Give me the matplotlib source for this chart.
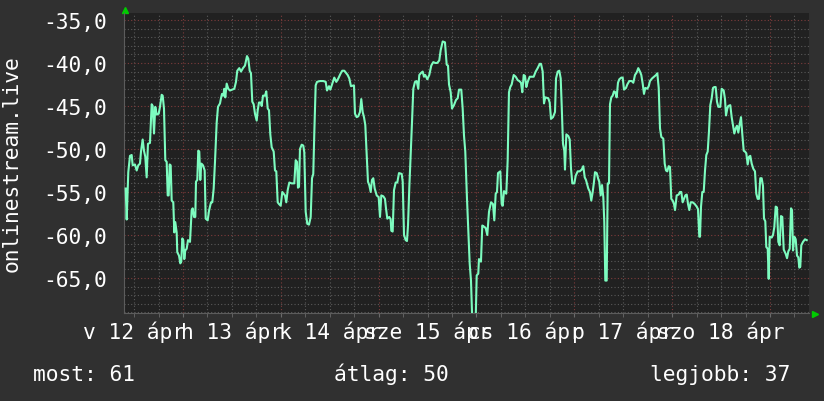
import matplotlib
matplotlib.use("Agg")
import matplotlib.pyplot as plt
import matplotlib.transforms as mtransforms
from matplotlib.ticker import MultipleLocator, FixedLocator

# ---- data (hours since 12 Apr 00:00, value) ----
hours = [
    9.94, 10.19, 10.58, 11.00, 11.41, 11.66, 12.22, 12.64, 13.03, 13.45, 13.70, 14.11, 14.43, 14.75, 15.09,
    15.41, 15.90, 16.32, 16.57, 16.89, 17.20, 17.55, 18.04, 18.36, 18.77, 19.02, 19.34, 19.66, 20.00, 20.25,
    20.49, 20.74, 20.98, 21.23, 21.62, 21.87, 22.11, 22.45, 22.60, 23.02, 23.34, 23.58, 23.83, 24.07, 24.32,
    24.56, 24.91, 25.23, 25.72, 26.13, 26.38, 26.70, 27.02, 27.19, 27.51, 27.75, 28.00, 28.24, 28.49, 28.91,
    29.32, 29.57, 30.06, 30.38, 30.87, 31.19, 31.53, 31.85, 32.27, 32.59, 33.08, 33.32, 33.57, 33.89, 34.13,
    34.38, 34.72, 35.11, 35.53, 36.09, 36.59, 37.00, 37.32, 37.81,
    38.23, 38.72, 39.21, 39.70, 40.02, 40.36, 40.68, 41.00, 41.34, 41.66, 42.08, 42.33, 42.64, 43.13, 43.31,
    43.63, 44.12, 44.43, 44.78, 45.10, 45.42, 45.76, 46.25, 46.57, 46.89, 47.23, 47.55, 47.97, 48.36, 48.70,
    49.02, 49.34, 49.68, 50.08, 50.67, 51.30, 51.65, 51.97, 52.21, 52.46, 52.70, 53.12, 53.51, 53.76, 54.10,
    54.49, 54.91, 55.33, 55.65, 55.96, 56.21, 56.55, 56.87, 57.61, 58.42, 59.01, 59.33, 59.82, 60.14, 60.63,
    61.12, 61.61, 62.10, 62.69, 63.08, 63.57, 64.06, 64.40, 64.80, 65.21,
    65.95, 66.19, 66.61, 67.00, 67.42, 67.74, 68.08, 68.40, 68.72, 69.06, 69.38, 69.70, 70.05, 70.36, 70.68,
    71.03, 71.52, 72.01, 72.33, 72.65, 73.14, 73.55, 73.80, 74.12, 74.61, 74.95, 75.10, 75.44, 75.76, 76.18,
    76.57, 76.99, 77.65, 77.90, 78.22, 78.63, 78.95, 79.20, 79.52, 79.86, 80.18, 80.50, 80.91, 81.33, 81.72,
    81.97, 82.31, 82.80, 83.12, 83.44, 83.93, 84.42, 84.91, 85.40, 85.89, 86.38, 86.87, 87.22, 87.71, 88.27,
    88.69, 89.01, 89.26, 89.67, 89.99, 90.48, 90.97, 91.39, 91.71, 92.27, 92.61, 92.93, 93.25,
    93.67, 93.99, 94.33, 94.65, 94.97, 95.80, 96.05, 96.44, 96.61, 97.10, 97.42, 97.77, 98.26, 98.65, 99.07,
    99.56, 100.05, 100.37, 100.71, 101.03, 101.28, 101.84, 102.18, 102.43, 102.75, 103.31, 103.65, 103.97,
    104.29, 104.63, 105.13, 105.62, 106.11, 106.50, 106.92, 107.24, 107.58, 107.90, 108.22, 108.56, 109.05,
    109.54, 110.03, 110.52, 111.01, 111.51, 111.83, 112.24, 112.56, 112.88, 113.61, 113.96, 114.28, 114.77,
    115.26, 115.51, 115.92, 116.31, 116.66, 116.90, 117.22, 117.54, 117.71, 118.04, 118.53, 118.87, 119.19,
    119.51, 120.00, 120.34, 120.83, 121.32, 121.81, 122.20, 122.55, 122.86, 123.43, 123.84, 124.16, 124.51,
    124.83, 125.07, 125.49, 125.88, 126.12, 126.47, 126.79, 127.11, 127.35, 127.60, 127.94, 128.19, 128.51,
    128.75, 129.07, 129.41, 129.73, 130.05, 130.39, 130.71, 131.03, 131.52, 131.87, 132.19, 132.68, 133.00,
    133.49, 134.08, 134.47, 134.88, 135.30, 135.69, 136.11, 136.43, 136.77, 137.09, 137.41, 137.90, 138.25,
    138.56, 139.06, 139.55, 140.04, 140.36, 140.70, 141.02, 141.34, 141.83, 142.17, 142.49, 142.81, 143.15,
    143.47, 143.79, 144.13, 144.45, 144.70, 145.11, 145.60, 145.92, 146.24, 146.58, 146.91, 147.23, 147.57,
    147.89, 148.21, 148.55, 149.04, 149.53, 150.02, 150.34, 150.66, 150.83, 151.08, 151.40, 151.74, 152.06,
    152.38, 152.72, 153.04, 153.36, 153.70, 154.02, 154.34, 154.68, 155.00, 155.32, 155.81, 156.15, 156.64,
    156.96, 157.21, 157.53, 157.77, 158.26, 158.60, 158.92, 159.25, 159.59, 159.91, 160.23, 160.57, 160.89,
    161.21, 161.55, 161.87, 162.19, 162.53, 162.85, 163.17, 163.51, 163.91, 164.32, 164.64, 164.98, 165.30,
    165.62, 165.96, 166.28, 166.53, 166.85, 167.09, 167.44, 167.68, 167.93, 168.42, 168.74, 169.06, 169.40,
    169.72, 170.04, 170.38, 170.70, 171.02, 171.37, 171.86, 172.18, 172.50, 172.84, 173.16, 173.40, 173.65,
    173.97, 174.31, 174.63, 174.95, 175.19, 175.43, 175.68, 176.10, 176.59, 177.01,
]
values = [
    -54.6, -58.2, -52.7, -50.8, -50.7, -51.9, -51.8, -52.5, -51.9, -51.7, -50.3, -48.9, -50.2, -50.9, -53.3,
    -49.4, -49.3, -44.8, -45.0, -48.2, -45.1, -46.0, -45.9, -45.1, -43.7, -43.8, -45.3, -51.3, -51.5, -55.4,
    -55.4, -51.8, -51.9, -56.0, -56.2, -59.7, -58.5, -59.7, -62.0, -62.4, -63.3, -63.1, -60.4, -60.6, -62.8,
    -61.8, -61.6, -60.6, -60.8, -57.1, -56.9, -57.9, -57.9, -53.8, -53.6, -50.2, -50.3, -53.6, -51.7, -51.9,
    -52.5, -58.1, -58.3, -57.2, -56.2, -56.2, -54.6, -51.5, -46.9, -45.1, -44.7, -44.1, -43.6, -43.8, -43.0,
    -44.0, -42.4, -43.0, -43.2, -43.1, -43.0, -42.2, -40.9, -40.6,
    -41.0, -40.6, -40.3, -39.2, -39.5, -40.9, -41.2, -44.5, -44.8, -45.9, -46.7, -45.5, -44.6, -44.6, -45.0,
    -43.8, -43.8, -43.3, -45.3, -45.5, -48.3, -49.8, -50.3, -52.5, -52.6, -56.2, -56.4, -56.6, -55.0, -55.2,
    -55.4, -56.2, -54.8, -53.9, -54.0, -54.0, -51.3, -51.5, -54.5, -54.4, -50.0, -49.5, -49.6, -50.4, -57.3,
    -58.7, -58.8, -57.9, -53.4, -52.9, -48.2, -42.6, -42.2, -42.1, -42.1, -42.2, -43.2, -42.7, -43.1, -42.4,
    -41.7, -42.2, -41.8, -41.2, -40.9, -40.9, -41.2, -41.4, -41.8, -42.7,
    -42.6, -45.9, -46.3, -46.2, -45.7, -44.2, -45.7, -46.3, -47.2, -50.7, -53.8, -54.2, -55.0, -53.6, -53.4,
    -54.6, -55.4, -55.6, -57.9, -55.4, -55.5, -55.8, -56.9, -58.1, -57.9, -58.2, -59.5, -59.6, -54.8, -53.9,
    -53.9, -52.8, -52.9, -53.8, -60.0, -60.6, -60.7, -58.9, -54.5, -50.7, -46.9, -43.0, -42.2, -42.1, -43.0,
    -41.4, -41.2, -41.0, -41.6, -41.4, -41.9, -41.4, -40.3, -39.9, -40.0, -40.0, -39.7, -38.5, -37.5, -37.6,
    -40.2, -40.3, -42.5, -43.4, -45.3, -44.9, -44.3, -44.1, -43.1, -43.1, -45.3, -48.4, -50.3,
    -55.8, -59.3, -63.3, -65.3, -70.0, -70.0, -64.7, -64.5, -62.8, -63.1, -58.9, -59.0, -59.2, -60.0, -57.3,
    -56.2, -56.4, -58.3, -55.2, -55.0, -52.8, -52.6, -56.4, -56.6, -54.9, -55.2, -51.3, -43.4,
    -42.8, -42.5, -41.4, -41.6, -42.0, -42.1, -42.3, -43.4, -41.4, -41.5, -42.8, -42.2, -41.6,
    -41.6, -41.6, -41.0, -40.6, -40.1, -40.1, -41.0, -44.7, -44.0, -44.1, -44.6, -46.5, -46.3,
    -45.7, -41.8, -41.0, -40.9, -41.8, -44.9, -49.4, -50.2, -52.4, -48.3, -48.5, -48.9, -52.3,
    -54.0, -54.0, -53.1, -52.6, -52.6, -52.4, -52.0, -53.3, -53.6, -54.6, -55.0, -56.0, -55.0,
    -53.8, -52.7, -52.8, -53.5, -53.8, -55.4, -54.2, -55.6, -58.5, -65.3, -65.3, -54.0, -54.0,
    -44.8, -44.0, -43.8, -43.3, -43.4, -44.0, -42.3, -41.9, -41.7, -41.7, -43.1, -42.9, -42.5,
    -42.1, -42.1, -42.3, -41.4, -41.1, -40.6, -41.0, -41.4, -42.4, -43.6, -42.9, -43.0, -42.7,
    -42.1, -41.8, -41.6, -41.4, -41.2, -42.9, -47.6, -48.6, -48.8, -51.7, -52.5, -52.6, -52.0,
    -52.1, -55.8, -56.0, -56.4, -57.1, -55.4, -55.3, -55.0, -55.0, -56.2, -55.8, -55.4, -55.3,
    -56.4, -57.1, -56.2, -56.2, -56.4, -56.7, -57.0, -60.2, -60.2, -56.7, -55.0, -55.0, -52.5,
    -50.7, -50.3, -47.9, -44.9, -44.1, -42.9, -42.8, -42.8, -44.5, -45.1, -45.1, -43.0, -43.2,
    -44.2, -46.1, -45.3, -45.0, -44.9, -46.3, -47.2, -48.2, -47.6, -47.3, -48.1, -47.1, -46.3,
    -48.3, -50.2, -50.3, -50.5, -51.8, -50.9, -50.8, -51.7, -52.3, -52.6, -55.2, -55.8, -55.8,
    -53.4, -53.4, -54.3, -58.1, -58.4, -61.4, -61.6, -65.1, -60.2, -60.3, -60.0, -59.1, -56.7,
    -56.8, -60.8, -61.2, -57.8, -57.9, -61.7, -62.2, -62.7, -61.9, -61.6, -56.9, -57.1, -61.8,
    -60.2, -60.5, -62.4, -62.6, -63.8, -63.7, -61.2, -60.8, -60.5, -60.6,
]

y_ticks = [-65, -60, -55, -50, -45, -40, -35]
y_tick_labels = ["-65,0", "-60,0", "-55,0", "-50,0", "-45,0", "-40,0", "-35,0"]
day_labels = ["v 12 ápr", "h 13 ápr", "k 14 ápr", "sze 15 ápr", "cs 16 ápr", "p 17 ápr", "szo 18 ápr"]
day_label_hours = [12, 36, 60, 84, 108, 132, 156]
y_title = "onlinestream.live"
legend_items = ["most: 61", "átlag: 50", "legjobb: 37"]

FONT = "DejaVu Sans Mono"
FS = 15.3
TXT = "#ffffff"

W, H = 824, 402
fig = plt.figure(figsize=(W / 100, H / 100), dpi=100, facecolor="#303030")
L, R, T, B = 124, 809, 14, 314
ax = fig.add_axes([L / W, 1 - B / H, (R - L) / W, (B - T) / H])
ax.set_facecolor("#212121")
ax.set_xlim(9.53, 177.57)
ax.set_ylim(-69.07, -34.19)

ax.yaxis.set_major_locator(FixedLocator(y_ticks))
ax.set_yticklabels(y_tick_labels)
ax.yaxis.set_minor_locator(MultipleLocator(1))
ax.xaxis.set_major_locator(MultipleLocator(24))
ax.xaxis.set_minor_locator(MultipleLocator(6))
ax.set_xticklabels([])

ax.grid(which="minor", color="#5a5a5a", linestyle=(0, (1, 2)), linewidth=0.8)
ax.grid(which="major", color="#7e3c3c", linestyle=(0, (1, 2)), linewidth=0.8)
ax.set_axisbelow(True)

ax.tick_params(axis="y", which="major", length=0, pad=12.2, labelsize=FS, labelcolor=TXT)
ax.tick_params(axis="y", which="minor", length=0)
ax.tick_params(axis="x", which="both", length=3, color="#6a6a6a", direction="out")
for lab in ax.get_yticklabels():
    lab.set_fontfamily(FONT)

for s in ["top", "right"]:
    ax.spines[s].set_visible(False)
for s in ["left", "bottom"]:
    ax.spines[s].set_color("#5c5c5c")
    ax.spines[s].set_linewidth(0.8)

ax.plot(hours, values, color="#7dfcbf", linewidth=1.5, zorder=3)

# arrows
ax.plot([0.0015], [1.01], marker="^", color="#00cc00", markersize=5,
        transform=ax.transAxes, clip_on=False, linestyle="none")
ax.plot([1.0088], [-0.003], marker=">", color="#00cc00", markersize=5,
        transform=ax.transAxes, clip_on=False, linestyle="none")

trans = mtransforms.blended_transform_factory(ax.transData, fig.transFigure)
for hx, lab in zip(day_label_hours, day_labels):
    ax.text(hx, 1 - 339 / H, lab, transform=trans, ha="center", va="baseline",
            fontsize=FS, color=TXT, family=FONT, clip_on=False)

fig.text(12 / W, 1 - 164 / H, y_title, rotation=90, ha="center", va="center",
         fontsize=FS, color=TXT, family=FONT)

for xpos, txt in zip([33, 334, 650], legend_items):
    fig.text(xpos / W, 1 - 381 / H, txt, ha="left", va="baseline",
             fontsize=FS, color=TXT, family=FONT)

fig.savefig("out.png", dpi=100, facecolor=fig.get_facecolor())
